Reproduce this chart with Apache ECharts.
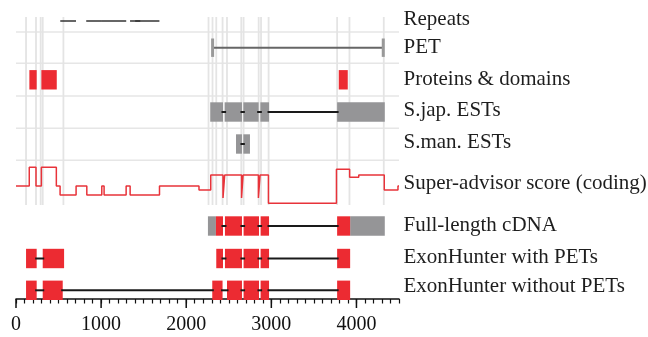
<!DOCTYPE html>
<html>
<head>
<meta charset="utf-8">
<script src="https://cdn.jsdelivr.net/npm/echarts@6/dist/echarts.min.js"></script>
<style>
  html, body { margin: 0; padding: 0; background: #fff; }
  #chart { width: 648px; height: 337px; }
</style>
</head>
<body>
<div id="chart"></div>
<script>
// sequence positions (bp)
const xLabels = [0, 1000, 2000, 3000, 4000];

const repeats = [[520, 705], [825, 1010], [1010, 1295], [1340, 1460], [1400, 1685]];
const pet = [2310, 4315];
const proteins = [[157, 243], [298, 479], [3792, 3898]];
const sjapESTs = [[[2282, 2432], [2451, 2655], [2671, 2851], [2871, 2973], [3773, 4333]]];
const smanESTs = [[[2585, 2655], [2671, 2749]]];
const cdnaUTR = [[2255, 2349], [3926, 4333]];
const cdnaCDS = [[2349, 2432], [2455, 2655], [2674, 2855], [2874, 2973], [3773, 3926]];
const ehWithPETs = [
    [[118, 243], [314, 565]],
    [[2353, 2432], [2455, 2655], [2674, 2855], [2874, 2973], [3773, 3926]]
];
const ehWithoutPETs = [
    [[118, 243], [314, 549], [2306, 2427], [2479, 2655], [2674, 2855], [2874, 2973], [3773, 3926]]
];
// super-advisor score: [start, score], each value holds until the next start
const scoreSteps = [
    [0, 0], [156, 1.87], [235, 0], [298, 1.87], [474, 0], [518, -0.9], [706, 0],
    [832, -0.9], [1008, 0], [1035, -0.9], [1294, 0], [1341, -0.9], [1686, 0],
    [2150, -0.4], [2288, 1.1], [2432, -1.2], [2452, 1.1], [2650, -1.2], [2668, 1.1],
    [2848, -1.2], [2868, 1.1], [2966, -1.73], [3765, 1.67], [3920, 0.87], [4027, 1.1],
    [4327, -0.4], [4488, 0], [4500, 0]
];
// boundaries marked by the light vertical lines
const guideX = [118, 235, 290, 314, 557, 2262, 2309, 2353, 2427, 2479, 2647, 2674,
    2851, 2879, 2968, 3773, 3918, 4321];

const trackNames = ['Repeats', 'PET', 'Proteins & domains', 'S.jap. ESTs', 'S.man. ESTs',
    'Super-advisor score (coding)', 'Full-length cDNA', 'ExonHunter with PETs',
    'ExonHunter without PETs'];

// layout (y in pixel rows of the grid)
const rowY = [21, 47.7, 79.8, 112, 144, 186, 226, 258.5, 290.3];
const labelY = [19.5, 47, 79, 110.7, 142.7, 183.7, 225.8, 257.8, 286.3];
const sepY = [32, 63.3, 96, 128.3, 160.3];
const AXIS_Y = 299;
const BOX_H = 19.4;
const SCORE_SCALE = 10;
const RED = '#ec2b32';
const GREY = '#959597';

const chart = echarts.init(document.getElementById('chart'));

function genesToIntrons(genes, row) {
    const out = [];
    genes.forEach(g => {
        const ex = g.slice().sort((a, b) => a[0] - b[0]);
        for (let i = 1; i < ex.length; i++) {
            if (ex[i][0] > ex[i - 1][1]) out.push([ex[i - 1][1], ex[i][0], row]);
        }
    });
    return out;
}

const redBlocks = [];
proteins.forEach(b => redBlocks.push([b[0], b[1], rowY[2]]));
cdnaCDS.forEach(b => redBlocks.push([b[0], b[1], rowY[6]]));
ehWithPETs.flat().forEach(b => redBlocks.push([b[0], b[1], rowY[7]]));
ehWithoutPETs.flat().forEach(b => redBlocks.push([b[0], b[1], rowY[8]]));

const greyBlocks = [];
sjapESTs.flat().forEach(b => greyBlocks.push([b[0], b[1], rowY[3]]));
smanESTs.flat().forEach(b => greyBlocks.push([b[0], b[1], rowY[4]]));
cdnaUTR.forEach(b => greyBlocks.push([b[0], b[1], rowY[6]]));

const introns = [].concat(
    genesToIntrons(sjapESTs, rowY[3]),
    genesToIntrons(smanESTs, rowY[4]),
    genesToIntrons([cdnaUTR.concat(cdnaCDS)], rowY[6]),
    genesToIntrons(ehWithPETs, rowY[7]),
    genesToIntrons(ehWithoutPETs, rowY[8])
);

function renderBlock(params, api) {
    const p0 = api.coord([api.value(0), api.value(2)]);
    const p1 = api.coord([api.value(1), api.value(2)]);
    return {
        type: 'rect',
        shape: { x: p0[0], y: p0[1] - BOX_H / 2, width: p1[0] - p0[0], height: BOX_H },
        style: { fill: api.visual('color') }
    };
}

function renderIntron(params, api) {
    const p0 = api.coord([api.value(0), api.value(2)]);
    const p1 = api.coord([api.value(1), api.value(2)]);
    return {
        type: 'line',
        shape: { x1: p0[0] - 1.5, y1: p0[1], x2: p1[0] + 1.5, y2: p1[1] },
        style: { stroke: '#1a1a1a', lineWidth: 2 }
    };
}

function renderHLine(color, width) {
    return (params, api) => {
        const p0 = api.coord([api.value(0), api.value(2)]);
        const p1 = api.coord([api.value(1), api.value(2)]);
        return { type: 'line', shape: { x1: p0[0], y1: p0[1], x2: p1[0], y2: p1[1] },
            style: { stroke: color, lineWidth: width } };
    };
}

const option = {
    animation: false,
    grid: { left: 16, top: 0, width: 383, height: AXIS_Y, outerBoundsMode: 'none' },
    xAxis: {
        type: 'value', min: 0, max: 4500, interval: 100, position: 'bottom',
        axisLine: { show: true, onZero: false, lineStyle: { color: '#111', width: 1.5 } },
        axisTick: { show: true, interval: 0, length: 4.5, lineStyle: { color: '#111', width: 1.2 } },
        axisLabel: {
            customValues: xLabels, margin: 16, color: '#111',
            fontFamily: 'Liberation Serif', fontSize: 20,
            formatter: v => String(v)
        },
        splitLine: { show: false }
    },
    yAxis: { type: 'value', min: 0, max: AXIS_Y, inverse: true, show: false },
    series: [
        {
            name: 'separators', type: 'custom', z: 1, silent: true,
            data: sepY.map(y => [0, 4500, y]),
            encode: { x: [0, 1], y: 2 },
            renderItem: renderHLine('#e6e6e6', 1.5)
        },
        {
            name: 'guides', type: 'custom', z: 1, silent: true,
            data: guideX.map(x => [x]),
            encode: { x: 0 },
            renderItem: (params, api) => {
                const p0 = api.coord([api.value(0), 17]);
                const p1 = api.coord([api.value(0), 205]);
                return { type: 'line', shape: { x1: p0[0], y1: p0[1], x2: p1[0], y2: p1[1] },
                    style: { stroke: '#e4e4e4', lineWidth: 1.8 } };
            }
        },
        {
            // long ticks at the labelled positions
            name: 'major ticks', type: 'custom', z: 5, clip: false, silent: true,
            data: xLabels.map(v => [v]),
            encode: { x: 0 },
            renderItem: (params, api) => {
                const p = api.coord([api.value(0), AXIS_Y]);
                return { type: 'line', shape: { x1: p[0], y1: p[1], x2: p[0], y2: p[1] + 9 },
                    style: { stroke: '#111', lineWidth: 1.5 } };
            }
        },
        {
            name: 'repeats', type: 'custom', z: 3,
            data: repeats.map(r => [r[0], r[1], rowY[0]]),
            encode: { x: [0, 1], y: 2 },
            renderItem: renderHLine('#333', 1.5)
        },
        {
            name: 'PET', type: 'custom', z: 3,
            data: [[pet[0], pet[1], rowY[1]]],
            encode: { x: [0, 1], y: 2 },
            renderItem: (params, api) => {
                const p0 = api.coord([api.value(0), api.value(2)]);
                const p1 = api.coord([api.value(1), api.value(2)]);
                return {
                    type: 'group',
                    children: [
                        { type: 'line', shape: { x1: p0[0], y1: p0[1], x2: p1[0], y2: p1[1] },
                            style: { stroke: '#666', lineWidth: 2 } },
                        { type: 'rect', shape: { x: p0[0] - 1.5, y: p0[1] - 9.2, width: 3, height: 18.4 },
                            style: { fill: '#999' } },
                        { type: 'rect', shape: { x: p1[0] - 1.5, y: p1[1] - 9.2, width: 3, height: 18.4 },
                            style: { fill: '#999' } }
                    ]
                };
            }
        },
        {
            name: 'score', type: 'line', z: 3, step: 'end', showSymbol: false,
            data: scoreSteps.map(p => [p[0], rowY[5] - p[1] * SCORE_SCALE]),
            lineStyle: { color: '#e8333a', width: 1.5 },
            itemStyle: { color: '#e8333a' }
        },
        {
            name: 'grey blocks', type: 'custom', z: 2,
            itemStyle: { color: GREY },
            data: greyBlocks, encode: { x: [0, 1], y: 2 },
            renderItem: renderBlock
        },
        {
            name: 'red blocks', type: 'custom', z: 2,
            itemStyle: { color: RED },
            data: redBlocks, encode: { x: [0, 1], y: 2 },
            renderItem: renderBlock
        },
        {
            name: 'introns', type: 'custom', z: 4,
            data: introns, encode: { x: [0, 1], y: 2 },
            renderItem: renderIntron
        },
        {
            name: 'labels', type: 'custom', z: 5, clip: false, silent: true,
            data: trackNames.map((t, i) => [4500, labelY[i]]),
            encode: { x: 0, y: 1 },
            renderItem: (params, api) => {
                const p = api.coord([api.value(0), api.value(1)]);
                return {
                    type: 'text', x: p[0] + 4.5, y: p[1],
                    style: {
                        text: trackNames[params.dataIndex], fill: '#1e1e1e',
                        fontFamily: 'Liberation Serif', fontSize: 21,
                        align: 'left', verticalAlign: 'middle'
                    }
                };
            }
        }
    ]
};

chart.setOption(option);
</script>
</body>
</html>
